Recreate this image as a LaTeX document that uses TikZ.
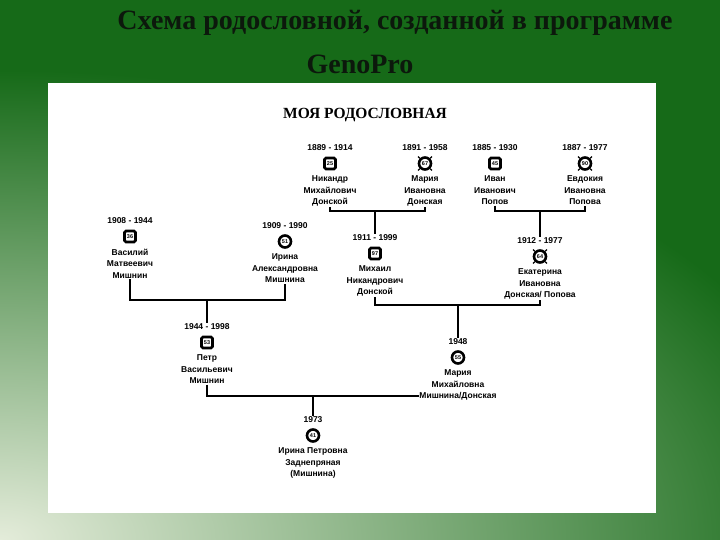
\documentclass[tikz,border=0pt]{standalone}
\usepackage{fontspec}
\setmainfont{Liberation Serif}
\newfontfamily\namefont{Liberation Sans}
\usepackage{tikz}
\usetikzlibrary{positioning}
\definecolor{bgdark}{RGB}{22,106,24}
\definecolor{bgpale}{RGB}{228,236,218}
\definecolor{titleink}{RGB}{12,24,12}
\tikzset{
  headline/.style={font=\fontsize{28}{30}\selectfont\bfseries, text=titleink, inner sep=0pt},
  treehead/.style={font=\fontsize{15.5}{16}\selectfont\bfseries, inner sep=0pt},
  yearlbl/.style={font=\namefont\bfseries\fontsize{8.5}{10}\selectfont, inner sep=0.5pt},
  namelbl/.style={font=\namefont\bfseries\fontsize{8.5}{11.5}\selectfont, align=center, inner sep=0.5pt},
  male/.style={rectangle, draw=black, fill=white, line width=2.6pt, rounded corners=1.5pt,
    minimum size=11pt, inner sep=0pt, font=\namefont\bfseries\fontsize{5.5}{6}\selectfont},
  female/.style={circle, draw=black, fill=white, line width=2.6pt,
    minimum size=12pt, inner sep=0pt, font=\namefont\bfseries\fontsize{5.5}{6}\selectfont},
  link/.style={line width=1.8pt, color=black},
  tick/.style={line width=1.2pt, color=black}
}

\begin{document}
\begin{tikzpicture}[x=1pt, y=-1pt]
  \useasboundingbox (0,0) rectangle (720,540);
  % Background and white panel
  \fill[bgdark] (0,0) rectangle (720,540);
  \begin{scope}
    \clip (0,0) rectangle (720,540);
    \shade[inner color=bgpale, outer color=bgdark] (0,540) ellipse [x radius=860, y radius=470];
  \end{scope}
  \fill[white] (48,83) rectangle (656,513);

  % Titles
  \node[headline] (ttl1) at (395,23) {Схема родословной, созданной в программе};
  \node[headline] (ttl2) at (360,64) {GenoPro};
  \node[treehead] (head) at (365,115) {МОЯ РОДОСЛОВНАЯ};

  % Top row
  \node[yearlbl] (nikY) at (330,148) {1889 - 1914};
  \node[male, below=5pt of nikY] (nik) {25};
  \node[namelbl, below=5pt of nik] (nikN) {Никандр\\Михайлович\\Донской};

  \node[yearlbl] (marIY) at (425,148) {1891 - 1958};
  \node[female, below=4.5pt of marIY] (marI) {67};
  \node[namelbl, below=4.5pt of marI] (marIN) {Мария\\Ивановна\\Донская};

  \node[yearlbl] (ivanY) at (495,148) {1885 - 1930};
  \node[male, below=5pt of ivanY] (ivan) {45};
  \node[namelbl, below=5pt of ivan] (ivanN) {Иван\\Иванович\\Попов};

  \node[yearlbl] (evdY) at (585,148) {1887 - 1977};
  \node[female, below=4.5pt of evdY] (evd) {90};
  \node[namelbl, below=4.5pt of evd] (evdN) {Евдокия\\Ивановна\\Попова};

  % Second row
  \node[yearlbl] (vasY) at (130,221) {1908 - 1944};
  \node[male, below=5pt of vasY] (vas) {36};
  \node[namelbl, below=5pt of vas] (vasN) {Василий\\Матвеевич\\Мишнин};

  \node[yearlbl] (irAY) at (285,226) {1909 - 1990};
  \node[female, below=4.5pt of irAY] (irA) {51};
  \node[namelbl, below=4.5pt of irA] (irAN) {Ирина\\Александровна\\Мишнина};

  \node[yearlbl] (mikhY) at (375,238) {1911 - 1999};
  \node[male, below=5pt of mikhY] (mikh) {97};
  \node[namelbl, below=5pt of mikh] (mikhN) {Михаил\\Никандрович\\Донской};

  \node[yearlbl] (ekaY) at (540,241) {1912 - 1977};
  \node[female, below=4.5pt of ekaY] (eka) {64};
  \node[namelbl, below=4.5pt of eka] (ekaN) {Екатерина\\Ивановна\\Донская/ Попова};

  % Third row
  \node[yearlbl] (petrY) at (207,327) {1944 - 1998};
  \node[male, below=5pt of petrY] (petr) {53};
  \node[namelbl, below=5pt of petr] (petrN) {Петр\\Васильевич\\Мишнин};

  \node[yearlbl] (marMY) at (458,342) {1948};
  \node[female, below=4.5pt of marMY] (marM) {55};
  \node[namelbl, below=4.5pt of marM] (marMN) {Мария\\Михайловна\\Мишнина/Донская};

  % Bottom
  \node[yearlbl] (irPY) at (313,420) {1973};
  \node[female, below=4.5pt of irPY] (irP) {41};
  \node[namelbl, below=4.5pt of irP] (irPN) {Ирина Петровна\\Заднепряная\\(Мишнина)};

  % Ticks round the female icons
  \foreach \p in {marI, evd, eka}
    \foreach \a in {45,135,225,315}
      \draw[tick] (\p.\a) -- ++(\a:2.5pt);

  % Family links
  \coordinate (j1) at (375,211);
  \coordinate (j2) at (540,211);
  \coordinate (j3) at (207,300);
  \coordinate (j4) at (458,305);
  \coordinate (j5) at (313,396);
  \draw[link] (nikN.south) |- (j1) -| (marIN.south);
  \draw[link] (j1) -- (mikhY.north);
  \draw[link] (ivanN.south) |- (j2) -| (evdN.south);
  \draw[link] (j2) -- (ekaY.north);
  \draw[link] (vasN.south) |- (j3) -| (irAN.south);
  \draw[link] (j3) -- (petrY.north);
  \draw[link] (mikhN.south) |- (j4) -| (ekaN.south);
  \draw[link] (j4) -- (marMY.north);
  \draw[link] (petrN.south) |- (j5) -- (marMN.west |- j5);
  \draw[link] (j5) -- (irPY.north);
\end{tikzpicture}
\end{document}
